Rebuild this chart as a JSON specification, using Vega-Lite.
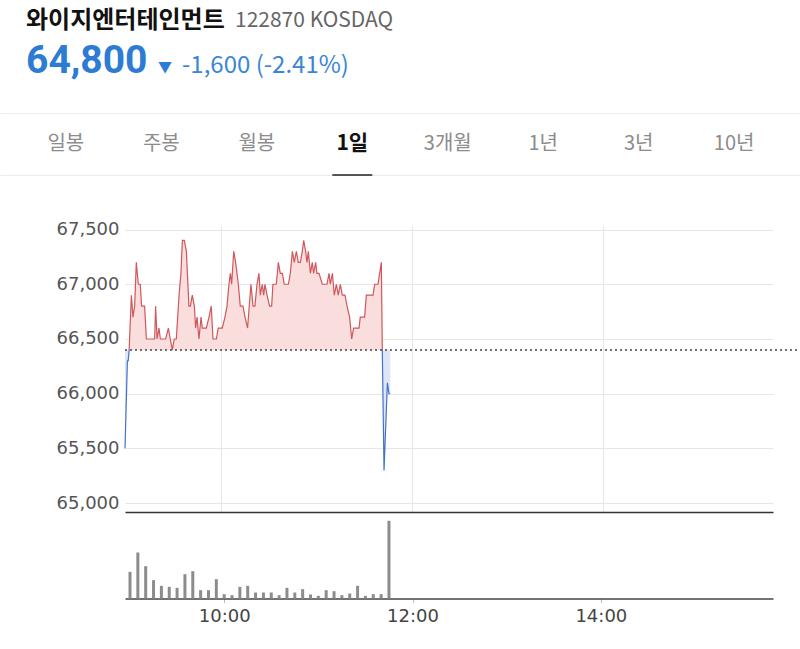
{
  "$schema": "https://vega.github.io/schema/vega-lite/v6.json",
  "padding": 0,
  "background": "white",
  "config": {"view": {"stroke": null}, "concat": {"spacing": 0}},
  "datasets": {
    "price": [
      {"time": "2024-01-02T09:00:00", "price": 65500, "seg": "a"},
      {"time": "2024-01-02T09:01:30", "price": 66300, "seg": "a"},
      {"time": "2024-01-02T09:02:00", "price": 66300, "seg": "a"},
      {"time": "2024-01-02T09:02:36", "price": 66400, "seg": "a"},
      {"time": "2024-01-02T09:02:36", "price": 66400, "seg": "b"},
      {"time": "2024-01-02T09:04:00", "price": 66900, "seg": "b"},
      {"time": "2024-01-02T09:05:00", "price": 66700, "seg": "b"},
      {"time": "2024-01-02T09:06:03", "price": 66800, "seg": "b"},
      {"time": "2024-01-02T09:07:06", "price": 67200, "seg": "b"},
      {"time": "2024-01-02T09:08:21", "price": 67000, "seg": "b"},
      {"time": "2024-01-02T09:09:36", "price": 67000, "seg": "b"},
      {"time": "2024-01-02T09:10:24", "price": 66800, "seg": "b"},
      {"time": "2024-01-02T09:12:18", "price": 66800, "seg": "b"},
      {"time": "2024-01-02T09:13:24", "price": 66500, "seg": "b"},
      {"time": "2024-01-02T09:18:36", "price": 66500, "seg": "b"},
      {"time": "2024-01-02T09:19:12", "price": 66800, "seg": "b"},
      {"time": "2024-01-02T09:20:06", "price": 66500, "seg": "b"},
      {"time": "2024-01-02T09:21:18", "price": 66600, "seg": "b"},
      {"time": "2024-01-02T09:22:12", "price": 66500, "seg": "b"},
      {"time": "2024-01-02T09:25:30", "price": 66500, "seg": "b"},
      {"time": "2024-01-02T09:27:12", "price": 66600, "seg": "b"},
      {"time": "2024-01-02T09:28:24", "price": 66500, "seg": "b"},
      {"time": "2024-01-02T09:29:42", "price": 66400, "seg": "b"},
      {"time": "2024-01-02T09:30:54", "price": 66500, "seg": "b"},
      {"time": "2024-01-02T09:32:12", "price": 66500, "seg": "b"},
      {"time": "2024-01-02T09:33:54", "price": 66900, "seg": "b"},
      {"time": "2024-01-02T09:35:06", "price": 67100, "seg": "b"},
      {"time": "2024-01-02T09:36:00", "price": 67400, "seg": "b"},
      {"time": "2024-01-02T09:37:12", "price": 67400, "seg": "b"},
      {"time": "2024-01-02T09:38:30", "price": 67300, "seg": "b"},
      {"time": "2024-01-02T09:40:06", "price": 66800, "seg": "b"},
      {"time": "2024-01-02T09:41:00", "price": 66800, "seg": "b"},
      {"time": "2024-01-02T09:42:12", "price": 66900, "seg": "b"},
      {"time": "2024-01-02T09:43:30", "price": 66800, "seg": "b"},
      {"time": "2024-01-02T09:44:18", "price": 66600, "seg": "b"},
      {"time": "2024-01-02T09:45:12", "price": 66700, "seg": "b"},
      {"time": "2024-01-02T09:46:24", "price": 66500, "seg": "b"},
      {"time": "2024-01-02T09:47:42", "price": 66700, "seg": "b"},
      {"time": "2024-01-02T09:48:30", "price": 66600, "seg": "b"},
      {"time": "2024-01-02T09:51:00", "price": 66600, "seg": "b"},
      {"time": "2024-01-02T09:52:42", "price": 66700, "seg": "b"},
      {"time": "2024-01-02T09:54:06", "price": 66800, "seg": "b"},
      {"time": "2024-01-02T09:55:12", "price": 66500, "seg": "b"},
      {"time": "2024-01-02T09:57:18", "price": 66500, "seg": "b"},
      {"time": "2024-01-02T09:58:30", "price": 66600, "seg": "b"},
      {"time": "2024-01-02T10:01:00", "price": 66600, "seg": "b"},
      {"time": "2024-01-02T10:02:42", "price": 66700, "seg": "b"},
      {"time": "2024-01-02T10:04:00", "price": 66800, "seg": "b"},
      {"time": "2024-01-02T10:05:12", "price": 67000, "seg": "b"},
      {"time": "2024-01-02T10:06:06", "price": 67100, "seg": "b"},
      {"time": "2024-01-02T10:06:54", "price": 67000, "seg": "b"},
      {"time": "2024-01-02T10:08:12", "price": 67300, "seg": "b"},
      {"time": "2024-01-02T10:09:24", "price": 67200, "seg": "b"},
      {"time": "2024-01-02T10:11:06", "price": 67000, "seg": "b"},
      {"time": "2024-01-02T10:12:18", "price": 66800, "seg": "b"},
      {"time": "2024-01-02T10:14:00", "price": 66800, "seg": "b"},
      {"time": "2024-01-02T10:15:18", "price": 66700, "seg": "b"},
      {"time": "2024-01-02T10:16:54", "price": 66600, "seg": "b"},
      {"time": "2024-01-02T10:19:00", "price": 67000, "seg": "b"},
      {"time": "2024-01-02T10:20:18", "price": 66800, "seg": "b"},
      {"time": "2024-01-02T10:21:30", "price": 66800, "seg": "b"},
      {"time": "2024-01-02T10:22:48", "price": 67000, "seg": "b"},
      {"time": "2024-01-02T10:24:00", "price": 67100, "seg": "b"},
      {"time": "2024-01-02T10:24:54", "price": 66900, "seg": "b"},
      {"time": "2024-01-02T10:26:06", "price": 67000, "seg": "b"},
      {"time": "2024-01-02T10:27:00", "price": 66900, "seg": "b"},
      {"time": "2024-01-02T10:27:48", "price": 67000, "seg": "b"},
      {"time": "2024-01-02T10:29:06", "price": 66900, "seg": "b"},
      {"time": "2024-01-02T10:30:42", "price": 66800, "seg": "b"},
      {"time": "2024-01-02T10:32:00", "price": 66800, "seg": "b"},
      {"time": "2024-01-02T10:32:48", "price": 67000, "seg": "b"},
      {"time": "2024-01-02T10:34:54", "price": 67000, "seg": "b"},
      {"time": "2024-01-02T10:36:12", "price": 67200, "seg": "b"},
      {"time": "2024-01-02T10:37:24", "price": 67100, "seg": "b"},
      {"time": "2024-01-02T10:38:42", "price": 67100, "seg": "b"},
      {"time": "2024-01-02T10:39:54", "price": 67000, "seg": "b"},
      {"time": "2024-01-02T10:42:30", "price": 67000, "seg": "b"},
      {"time": "2024-01-02T10:43:42", "price": 67100, "seg": "b"},
      {"time": "2024-01-02T10:45:00", "price": 67300, "seg": "b"},
      {"time": "2024-01-02T10:46:12", "price": 67200, "seg": "b"},
      {"time": "2024-01-02T10:47:30", "price": 67300, "seg": "b"},
      {"time": "2024-01-02T10:48:42", "price": 67200, "seg": "b"},
      {"time": "2024-01-02T10:50:00", "price": 67200, "seg": "b"},
      {"time": "2024-01-02T10:51:12", "price": 67300, "seg": "b"},
      {"time": "2024-01-02T10:52:06", "price": 67400, "seg": "b"},
      {"time": "2024-01-02T10:53:18", "price": 67300, "seg": "b"},
      {"time": "2024-01-02T10:54:12", "price": 67200, "seg": "b"},
      {"time": "2024-01-02T10:55:00", "price": 67300, "seg": "b"},
      {"time": "2024-01-02T10:56:18", "price": 67100, "seg": "b"},
      {"time": "2024-01-02T10:57:30", "price": 67200, "seg": "b"},
      {"time": "2024-01-02T10:58:18", "price": 67100, "seg": "b"},
      {"time": "2024-01-02T10:59:36", "price": 67200, "seg": "b"},
      {"time": "2024-01-02T11:00:24", "price": 67100, "seg": "b"},
      {"time": "2024-01-02T11:01:42", "price": 67100, "seg": "b"},
      {"time": "2024-01-02T11:03:48", "price": 67000, "seg": "b"},
      {"time": "2024-01-02T11:06:42", "price": 67000, "seg": "b"},
      {"time": "2024-01-02T11:08:00", "price": 67100, "seg": "b"},
      {"time": "2024-01-02T11:08:48", "price": 67000, "seg": "b"},
      {"time": "2024-01-02T11:10:06", "price": 67100, "seg": "b"},
      {"time": "2024-01-02T11:11:18", "price": 66900, "seg": "b"},
      {"time": "2024-01-02T11:12:36", "price": 67000, "seg": "b"},
      {"time": "2024-01-02T11:13:48", "price": 66900, "seg": "b"},
      {"time": "2024-01-02T11:15:06", "price": 67000, "seg": "b"},
      {"time": "2024-01-02T11:16:18", "price": 66900, "seg": "b"},
      {"time": "2024-01-02T11:18:00", "price": 66900, "seg": "b"},
      {"time": "2024-01-02T11:19:18", "price": 66800, "seg": "b"},
      {"time": "2024-01-02T11:20:54", "price": 66700, "seg": "b"},
      {"time": "2024-01-02T11:22:12", "price": 66500, "seg": "b"},
      {"time": "2024-01-02T11:23:24", "price": 66600, "seg": "b"},
      {"time": "2024-01-02T11:26:48", "price": 66600, "seg": "b"},
      {"time": "2024-01-02T11:27:36", "price": 66700, "seg": "b"},
      {"time": "2024-01-02T11:30:18", "price": 66700, "seg": "b"},
      {"time": "2024-01-02T11:31:24", "price": 66900, "seg": "b"},
      {"time": "2024-01-02T11:35:36", "price": 66900, "seg": "b"},
      {"time": "2024-01-02T11:36:36", "price": 67000, "seg": "b"},
      {"time": "2024-01-02T11:38:42", "price": 67000, "seg": "b"},
      {"time": "2024-01-02T11:40:48", "price": 67200, "seg": "b"},
      {"time": "2024-01-02T11:41:24", "price": 66400, "seg": "b"},
      {"time": "2024-01-02T11:41:24", "price": 66400, "seg": "c"},
      {"time": "2024-01-02T11:42:30", "price": 65300, "seg": "c"},
      {"time": "2024-01-02T11:44:36", "price": 66100, "seg": "c"},
      {"time": "2024-01-02T11:45:36", "price": 66000, "seg": "c"},
      {"time": "2024-01-02T11:46:24", "price": 66000, "seg": "c"}
    ],
    "volume": [
      {"time": "2024-01-02T09:00:00", "volume": 8000},
      {"time": "2024-01-02T09:05:00", "volume": 13800},
      {"time": "2024-01-02T09:10:00", "volume": 9700},
      {"time": "2024-01-02T09:15:00", "volume": 5500},
      {"time": "2024-01-02T09:20:00", "volume": 3800},
      {"time": "2024-01-02T09:25:00", "volume": 3500},
      {"time": "2024-01-02T09:30:00", "volume": 3200},
      {"time": "2024-01-02T09:35:00", "volume": 7300},
      {"time": "2024-01-02T09:40:00", "volume": 8200},
      {"time": "2024-01-02T09:45:00", "volume": 2500},
      {"time": "2024-01-02T09:50:00", "volume": 2500},
      {"time": "2024-01-02T09:55:00", "volume": 5800},
      {"time": "2024-01-02T10:00:00", "volume": 1300},
      {"time": "2024-01-02T10:05:00", "volume": 1000},
      {"time": "2024-01-02T10:10:00", "volume": 3500},
      {"time": "2024-01-02T10:15:00", "volume": 3800},
      {"time": "2024-01-02T10:20:00", "volume": 1800},
      {"time": "2024-01-02T10:25:00", "volume": 1800},
      {"time": "2024-01-02T10:30:00", "volume": 1800},
      {"time": "2024-01-02T10:35:00", "volume": 1000},
      {"time": "2024-01-02T10:40:00", "volume": 3200},
      {"time": "2024-01-02T10:45:00", "volume": 1800},
      {"time": "2024-01-02T10:50:00", "volume": 2800},
      {"time": "2024-01-02T10:55:00", "volume": 1200},
      {"time": "2024-01-02T11:00:00", "volume": 800},
      {"time": "2024-01-02T11:05:00", "volume": 2500},
      {"time": "2024-01-02T11:10:00", "volume": 2200},
      {"time": "2024-01-02T11:15:00", "volume": 1000},
      {"time": "2024-01-02T11:20:00", "volume": 1500},
      {"time": "2024-01-02T11:25:00", "volume": 3800},
      {"time": "2024-01-02T11:30:00", "volume": 800},
      {"time": "2024-01-02T11:35:00", "volume": 1300},
      {"time": "2024-01-02T11:40:00", "volume": 1300},
      {"time": "2024-01-02T11:45:00", "volume": 23300}
    ],
    "tabs": [
      {"tab": "일봉", "sel": false},
      {"tab": "주봉", "sel": false},
      {"tab": "월봉", "sel": false},
      {"tab": "1일", "sel": true},
      {"tab": "3개월", "sel": false},
      {"tab": "1년", "sel": false},
      {"tab": "3년", "sel": false},
      {"tab": "10년", "sel": false}
    ]
  },
  "vconcat": [
    {
      "vconcat": [
        {
          "hconcat": [
            {
              "width": 52, "height": 41,
              "data": {"values": [{"t": "와이지엔터테인먼트"}]},
              "mark": {"type": "text", "align": "left", "baseline": "middle", "font": "Noto Sans CJK KR", "fontSize": 24, "fontWeight": "bold", "color": "#111111"},
              "encoding": {"text": {"field": "t"}}
            },
            {
              "width": 2, "height": 42,
              "data": {"values": [{"t": "122870 KOSDAQ"}]},
              "mark": {"type": "text", "align": "left", "baseline": "middle", "font": "Noto Sans CJK KR", "fontSize": 21, "color": "#666666"},
              "encoding": {"text": {"field": "t"}}
            }
          ],
          "spacing": 9
        },
        {
          "hconcat": [
            {
              "width": 52, "height": 38,
              "data": {"values": [{"t": "64,800"}]},
              "mark": {"type": "text", "align": "left", "baseline": "middle", "font": "Roboto", "fontSize": 39, "fontWeight": "bold", "color": "#2c7cd3"},
              "encoding": {"text": {"field": "t"}}
            },
            {
              "width": 2, "height": 51,
              "data": {"values": [{"t": "▼"}]},
              "mark": {"type": "text", "align": "left", "baseline": "middle", "font": "Noto Sans CJK KR", "fontSize": 14, "color": "#2c7cd3"},
              "encoding": {"text": {"field": "t"}}
            },
            {
              "width": 2, "height": 48,
              "data": {"values": [{"t": "-1,600 (-2.41%)"}]},
              "mark": {"type": "text", "align": "left", "baseline": "middle", "font": "Noto Sans CJK KR", "fontSize": 24, "color": "#3a86d6"},
              "encoding": {"text": {"field": "t"}}
            }
          ],
          "spacing": 9
        }
      ],
      "spacing": 0
    },
    {
      "vconcat": [
        {
          "width": 800, "height": 62,
          "data": {"name": "tabs"},
          "layer": [
            {
              "transform": [{"filter": "!datum.sel"}],
              "mark": {"type": "text", "font": "Noto Sans CJK KR", "fontSize": 20, "color": "#8c8c8c"},
              "encoding": {
                "x": {"field": "tab", "type": "nominal", "scale": {"type": "point", "domain": ["일봉", "주봉", "월봉", "1일", "3개월", "1년", "3년", "10년"], "padding": 0.69}, "axis": {"orient": "bottom", "labels": false, "ticks": false, "grid": false, "domain": true, "domainColor": "#ebebeb", "title": null}},
                "text": {"field": "tab"}
              }
            },
            {
              "transform": [{"filter": "datum.sel"}],
              "mark": {"type": "text", "font": "Noto Sans CJK KR", "fontSize": 21, "fontWeight": "bold", "color": "#111111"},
              "encoding": {
                "x": {"field": "tab", "type": "nominal", "scale": {"type": "point", "domain": ["일봉", "주봉", "월봉", "1일", "3개월", "1년", "3년", "10년"], "padding": 0.69}, "axis": null},
                "text": {"field": "tab"}
              }
            },
            {
              "transform": [{"filter": "datum.sel"}],
              "mark": {"type": "tick", "orient": "horizontal", "size": 40, "thickness": 2, "color": "#111111"},
              "encoding": {
                "x": {"field": "tab", "type": "nominal", "scale": {"type": "point", "domain": ["일봉", "주봉", "월봉", "1일", "3개월", "1년", "3년", "10년"], "padding": 0.69}, "axis": {"orient": "top", "labels": false, "ticks": false, "grid": false, "domain": true, "domainColor": "#ebebeb", "title": null}},
                "y": {"datum": 0, "type": "quantitative", "scale": {"domain": [0, 1]}, "axis": null}
              }
            }
          ],
          "resolve": {"axis": {"x": "independent"}}
        },
        {
          "hconcat": [
            {
              "width": 56, "height": 1,
              "data": {"values": []},
              "mark": "point"
            },
            {
              "vconcat": [
                {
                  "width": 648, "height": 286,
                  "layer": [
                    {
                      "data": {"name": "price"},
                      "mark": {"type": "area", "interpolate": "linear"},
                      "encoding": {
                        "x": {"field": "time", "type": "temporal", "scale": {"domain": [{"year": 2024, "month": 1, "date": 2, "hours": 9}, {"year": 2024, "month": 1, "date": 2, "hours": 15, "minutes": 46, "seconds": 30}]}, "axis": {"values": [{"year": 2024, "month": 1, "date": 2, "hours": 10}, {"year": 2024, "month": 1, "date": 2, "hours": 12}, {"year": 2024, "month": 1, "date": 2, "hours": 14}], "grid": true, "gridColor": "#e6e6e6", "labels": false, "ticks": false, "domain": true, "domainColor": "#333333", "domainWidth": 1.6, "title": null}},
                        "y": {"field": "price", "type": "quantitative", "scale": {"domain": [64920, 67532], "nice": false, "zero": false}, "axis": {"values": [65000, 65500, 66000, 66500, 67000, 67500], "format": ",d", "labelFont": "DejaVu Sans", "labelFontSize": 18, "labelColor": "#555555", "labelPadding": 6, "ticks": false, "domain": false, "grid": true, "gridColor": "#e6e6e6", "title": null}},
                        "y2": {"datum": 66400},
                        "fill": {"field": "seg", "type": "nominal", "scale": {"domain": ["a", "b", "c"], "range": ["#dce6f7", "#fadede", "#dce6f7"]}, "legend": null}
                      }
                    },
                    {
                      "data": {"name": "price"},
                      "mark": {"type": "line", "interpolate": "linear", "strokeWidth": 1.2},
                      "encoding": {
                        "x": {"field": "time", "type": "temporal"},
                        "y": {"field": "price", "type": "quantitative"},
                        "stroke": {"field": "seg", "type": "nominal", "scale": {"domain": ["a", "b", "c"], "range": ["#4472c9", "#d0575b", "#4472c9"]}, "legend": null}
                      }
                    },
                    {
                      "data": {"values": [{}]},
                      "mark": {"type": "rule", "strokeDash": [2, 3], "strokeWidth": 1.6, "color": "#444444"},
                      "encoding": {
                        "x": {"datum": {"year": 2024, "month": 1, "date": 2, "hours": 9}, "type": "temporal"},
                        "x2": {"datum": {"year": 2024, "month": 1, "date": 2, "hours": 16, "minutes": 2}},
                        "y": {"datum": 66400, "type": "quantitative"}
                      }
                    }
                  ]
                },
                {
                  "width": 648, "height": 85.5,
                  "data": {"name": "volume"},
                  "mark": {"type": "bar", "size": 3, "color": "#8c8c8c"},
                  "encoding": {
                    "x": {"field": "time", "type": "temporal", "scale": {"domain": [{"year": 2024, "month": 1, "date": 2, "hours": 9}, {"year": 2024, "month": 1, "date": 2, "hours": 15, "minutes": 46, "seconds": 30}]}, "axis": {"values": [{"year": 2024, "month": 1, "date": 2, "hours": 10}, {"year": 2024, "month": 1, "date": 2, "hours": 12}, {"year": 2024, "month": 1, "date": 2, "hours": 14}], "format": "%H:%M", "labelFont": "DejaVu Sans", "labelFontSize": 18, "labelColor": "#444444", "labelPadding": 5, "grid": false, "ticks": true, "tickColor": "#bbbbbb", "tickSize": 4, "domain": true, "domainColor": "#444444", "domainWidth": 1.6, "title": null}},
                    "y": {"field": "volume", "type": "quantitative", "scale": {"domain": [0, 25640]}, "axis": null}
                  }
                }
              ],
              "spacing": 0
            }
          ],
          "spacing": 0
        }
      ],
      "spacing": 44
    }
  ],
  "spacing": 20
}
